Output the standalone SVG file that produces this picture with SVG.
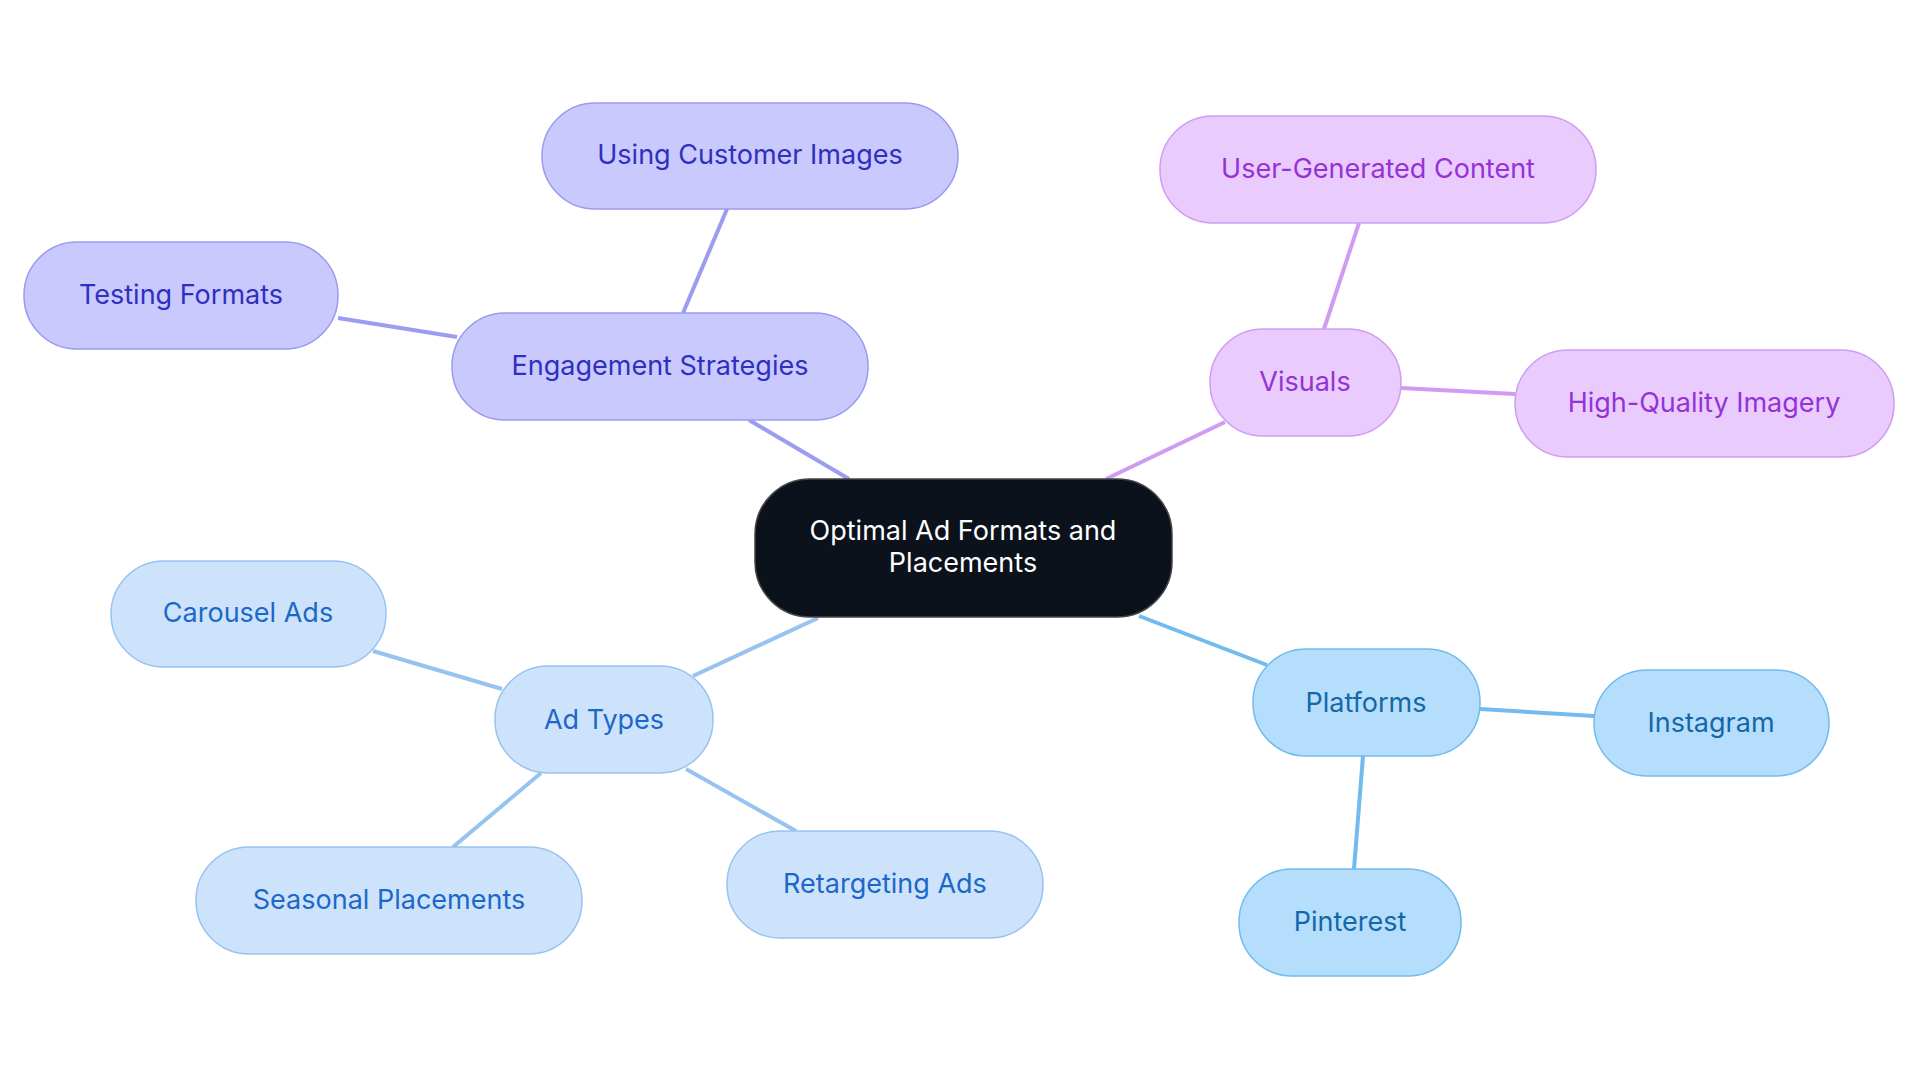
<svg xmlns="http://www.w3.org/2000/svg" width="1920" height="1083" viewBox="0 0 1920 1083">
<style>
text{font-family:Inter,"Noto Sans",sans-serif;font-size:27px;text-anchor:middle;dominant-baseline:central}
rect{stroke-width:1.5}
.p rect{fill:#c9c9fd;stroke:#9a9aee}.p text{fill:#2f2fc0}
.v rect{fill:#e9cbfd;stroke:#cf9cf2}.v text{fill:#9532d6}
.b rect{fill:#cde3fb;stroke:#98c3f1}.b text{fill:#1c68c8}
.s rect{fill:#b4defc;stroke:#72bbee}.s text{fill:#1667a6}
#edges line{stroke-width:4;fill:none}
</style>
<rect width="1920" height="1083" fill="#fff"/>
<g id="edges">
<line x1="849" y1="479" x2="749" y2="420" stroke="#9c9cf0"/>
<line x1="683" y1="313" x2="727" y2="209" stroke="#9c9cf0"/>
<line x1="457" y1="337" x2="338" y2="318" stroke="#9c9cf0"/>
<line x1="1106" y1="479" x2="1225" y2="422" stroke="#cf9cf2"/>
<line x1="1324" y1="329" x2="1359" y2="223" stroke="#cf9cf2"/>
<line x1="1401" y1="388" x2="1515" y2="394" stroke="#cf9cf2"/>
<line x1="818" y1="618" x2="693" y2="676" stroke="#98c3f1"/>
<line x1="502" y1="689" x2="373" y2="651" stroke="#98c3f1"/>
<line x1="541" y1="773" x2="453" y2="847" stroke="#98c3f1"/>
<line x1="686" y1="769" x2="796" y2="831" stroke="#98c3f1"/>
<line x1="1139" y1="616" x2="1267" y2="665" stroke="#72bbee"/>
<line x1="1480" y1="709" x2="1594" y2="716" stroke="#72bbee"/>
<line x1="1363" y1="756" x2="1354" y2="869" stroke="#72bbee"/>
</g>
<g id="center"><rect x="755" y="479" width="417" height="138" rx="55" fill="#0c121c" stroke="#444" stroke-width="2"/><text x="963" y="530" fill="#fff">Optimal Ad Formats and</text><text x="963" y="562" fill="#fff">Placements</text></g>
<g id="engagement" class="p"><rect x="452" y="313" width="416" height="107" rx="53"/><text x="660" y="365">Engagement Strategies</text></g>
<g id="customer-images" class="p"><rect x="542" y="103" width="416" height="106" rx="53"/><text x="750" y="154">Using Customer Images</text></g>
<g id="testing" class="p"><rect x="24" y="242" width="314" height="107" rx="53"/><text x="181" y="294">Testing Formats</text></g>
<g id="visuals" class="v"><rect x="1210" y="329" width="191" height="107" rx="53"/><text x="1305" y="381">Visuals</text></g>
<g id="ugc" class="v"><rect x="1160" y="116" width="436" height="107" rx="53"/><text x="1378" y="168">User-Generated Content</text></g>
<g id="hq" class="v"><rect x="1515" y="350" width="379" height="107" rx="53"/><text x="1704" y="402">High-Quality Imagery</text></g>
<g id="adtypes" class="b"><rect x="495" y="666" width="218" height="107" rx="53"/><text x="604" y="719">Ad Types</text></g>
<g id="carousel" class="b"><rect x="111" y="561" width="275" height="106" rx="53"/><text x="248" y="612">Carousel Ads</text></g>
<g id="seasonal" class="b"><rect x="196" y="847" width="386" height="107" rx="53"/><text x="389" y="899">Seasonal Placements</text></g>
<g id="retargeting" class="b"><rect x="727" y="831" width="316" height="107" rx="53"/><text x="885" y="883">Retargeting Ads</text></g>
<g id="platforms" class="s"><rect x="1253" y="649" width="227" height="107" rx="53"/><text x="1366" y="702">Platforms</text></g>
<g id="instagram" class="s"><rect x="1594" y="670" width="235" height="106" rx="53"/><text x="1711" y="722">Instagram</text></g>
<g id="pinterest" class="s"><rect x="1239" y="869" width="222" height="107" rx="53"/><text x="1350" y="921">Pinterest</text></g>
</svg>
